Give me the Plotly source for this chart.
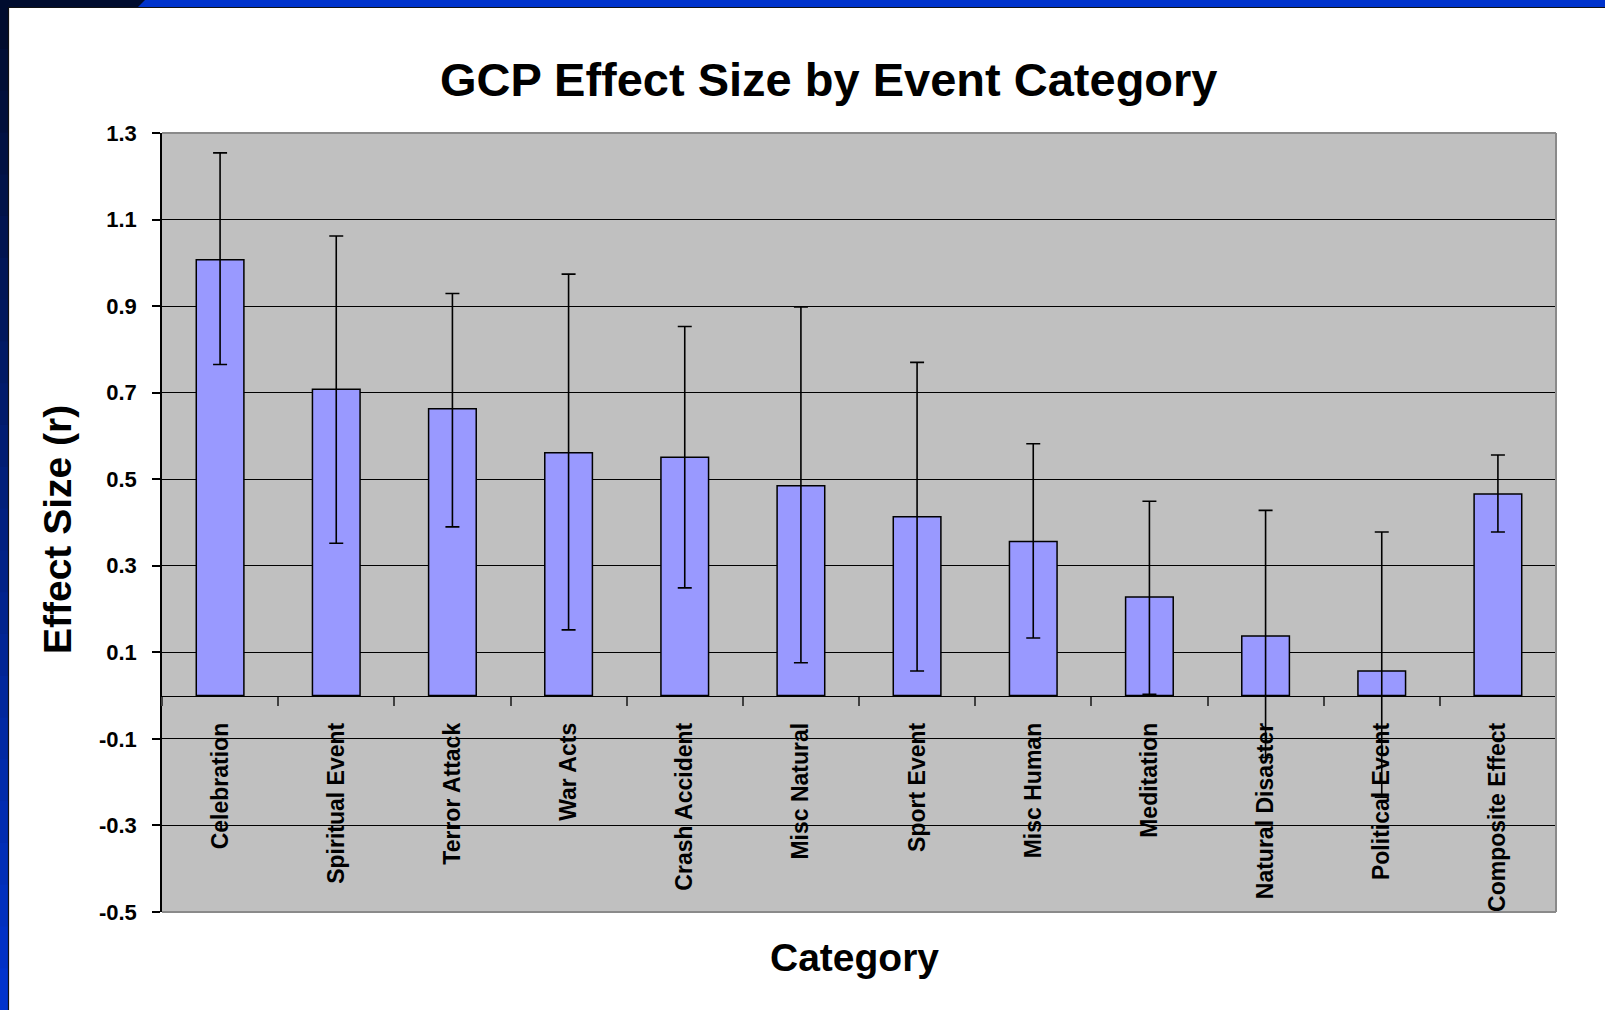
import plotly.graph_objects as go

# ---------------- data ----------------
categories = ["Celebration", "Spiritual Event", "Terror Attack", "War Acts",
              "Crash Accident", "Misc Natural", "Sport Event", "Misc Human",
              "Meditation", "Natural Disaster", "Political Event", "Composite Effect"]
effect_size = [1.007, 0.708, 0.663, 0.561, 0.551, 0.485, 0.413, 0.356, 0.228, 0.138, 0.057, 0.466]
ci_upper = [1.254, 1.062, 0.929, 0.974, 0.853, 0.898, 0.770, 0.582, 0.449, 0.428, 0.378, 0.556]
ci_lower = [0.765, 0.352, 0.390, 0.152, 0.249, 0.076, 0.057, 0.133, 0.003, -0.143, -0.235, 0.378]
y_tick_labels = ["-0.5", "-0.3", "-0.1", "0.1", "0.3", "0.5", "0.7", "0.9", "1.1", "1.3"]
y_range = [-0.5, 1.3]

title_text = "GCP Effect Size by Event Category"
y_title = "Effect Size (r)"
x_title = "Category"

# ---------------- layout helpers ----------------
W, H = 1605, 1010
plot_left, plot_right, plot_top, plot_bottom = 162, 1556, 133, 912
x_dom = [plot_left / W, plot_right / W]
y_dom = [1 - plot_bottom / H, 1 - plot_top / H]
zero_pos = y_dom[0] + (0 - y_range[0]) / (y_range[1] - y_range[0]) * (y_dom[1] - y_dom[0])

BOLD = "Liberation Sans, Arial"

err_plus = [u - v for u, v in zip(ci_upper, effect_size)]
err_minus = [v - l for v, l in zip(effect_size, ci_lower)]

fig = go.Figure()
fig.add_trace(go.Bar(
    x=categories, y=effect_size,
    marker=dict(color="#9999ff", line=dict(color="black", width=1.5)),
    error_y=dict(type="data", symmetric=False, array=err_plus, arrayminus=err_minus,
                 color="black", thickness=1.6, width=7),
    hoverinfo="x+y",
))

fig.update_layout(
    width=W, height=H,
    margin=dict(l=0, r=0, t=0, b=0),
    paper_bgcolor="white", plot_bgcolor="#c0c0c0",
    showlegend=False, bargap=0.59,
    xaxis=dict(
        domain=x_dom, anchor="free", position=zero_pos,
        range=[-0.5, len(categories) - 0.5],
        showline=True, linecolor="black", linewidth=1,
        ticks="outside", tickson="boundaries", ticklen=9, tickcolor="#404040", tickwidth=1.5,
        tickangle=-90, ticklabelstandoff=17,
        tickfont=dict(family=BOLD, size=23, color="black", weight="bold"),
        showgrid=False, zeroline=False, automargin=False,
    ),
    yaxis=dict(
        domain=y_dom, range=y_range,
        tickvals=[float(t) for t in y_tick_labels], ticktext=y_tick_labels,
        showgrid=True, gridcolor="black", gridwidth=1,
        zeroline=False,
        showline=True, linecolor="black", linewidth=1.5,
        ticks="outside", ticklen=8, tickcolor="black", tickwidth=1.5,
        ticklabelstandoff=11,
        tickfont=dict(family=BOLD, size=22, color="black", weight="bold"),
        automargin=False,
    ),
)

# plot-area border (top, right, bottom) in gray
for x0, y0, x1, y1 in [(0, 1, 1, 1), (1, 0, 1, 1), (0, 0, 1, 0)]:
    fig.add_shape(type="line", xref="x domain", yref="y domain",
                  x0=x0, y0=y0, x1=x1, y1=y1,
                  line=dict(color="#8a8a8a", width=2), layer="above")

# slide frame: top bar and left bar
navy = (0, 12, 46)
blue = (0, 51, 204)
fig.add_shape(type="rect", xref="paper", yref="paper", x0=0, x1=1, y0=1 - 7 / H, y1=1,
              fillcolor="rgb(0,51,204)", line_width=0, layer="above")
fig.add_shape(type="path", xref="paper", yref="paper",
              path=f"M 0,1 L {145 / W},1 L {138 / W},{1 - 7 / H} L 0,{1 - 7 / H} Z",
              fillcolor="rgb(0,12,46)", line_width=0, layer="above")
n_seg = 24
for i in range(n_seg):
    t = i / (n_seg - 1)
    c = tuple(round(navy[k] + (blue[k] - navy[k]) * t) for k in range(3))
    y_hi = 1 - 7 / H - i * (1 - 7 / H) / n_seg
    y_lo = 1 - 7 / H - (i + 1) * (1 - 7 / H) / n_seg
    fig.add_shape(type="rect", xref="paper", yref="paper", x0=0, x1=8 / W, y0=y_lo - 0.001, y1=y_hi,
                  fillcolor=f"rgb{c}", line_width=0, layer="above")
fig.add_shape(type="line", xref="paper", yref="paper", x0=8 / W, x1=1, y0=1 - 7.5 / H, y1=1 - 7.5 / H,
              line=dict(color="#111111", width=1.2), layer="above")
fig.add_shape(type="line", xref="paper", yref="paper", x0=8.5 / W, x1=8.5 / W, y0=0, y1=1 - 7 / H,
              line=dict(color="#111111", width=1.2), layer="above")

# titles
fig.add_annotation(text=title_text, xref="paper", yref="paper", x=828 / W, y=1 - 80 / H,
                   xanchor="center", yanchor="middle", showarrow=False,
                   font=dict(family=BOLD, size=47, color="black", weight="bold"))
fig.add_annotation(text=y_title, xref="paper", yref="paper", x=57 / W, y=1 - 530 / H,
                   xanchor="center", yanchor="middle", showarrow=False, textangle=-90,
                   font=dict(family=BOLD, size=39, color="black", weight="bold"))
fig.add_annotation(text=x_title, xref="paper", yref="paper", x=855 / W, y=1 - 957 / H,
                   xanchor="center", yanchor="middle", showarrow=False,
                   font=dict(family=BOLD, size=39, color="black", weight="bold"))

fig.write_html("out.html", config={"displayModeBar": False},
               post_script="document.body.style.margin='0';document.body.style.overflow='hidden';")
